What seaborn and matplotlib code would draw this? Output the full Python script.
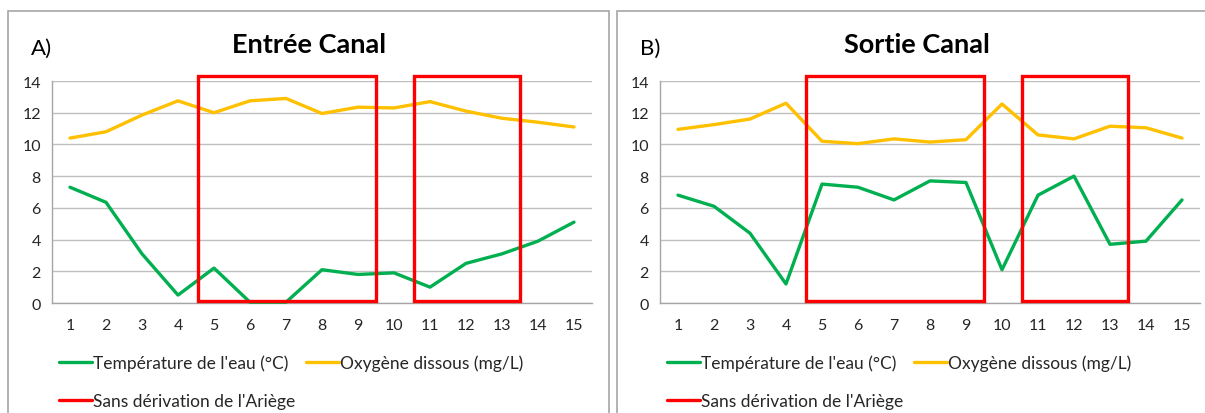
import numpy as np
import pandas as pd
import matplotlib
matplotlib.use("Agg")
import matplotlib.pyplot as plt
from matplotlib.patches import Rectangle
from matplotlib.lines import Line2D
import seaborn as sns

# ---- data ----
campaigns = list(range(1, 16))
temp_entree = [7.3, 6.35, 3.1, 0.5, 2.2, 0.05, 0.05, 2.1, 1.8, 1.9, 1.0, 2.5, 3.1, 3.9, 5.1]
oxy_entree = [10.4, 10.8, 11.85, 12.75, 12.0, 12.75, 12.9, 11.95, 12.35, 12.3, 12.7, 12.1, 11.65, 11.4, 11.1]
temp_sortie = [6.8, 6.1, 4.4, 1.2, 7.5, 7.3, 6.5, 7.7, 7.6, 2.1, 6.8, 8.0, 3.7, 3.9, 6.5]
oxy_sortie = [10.95, 11.25, 11.6, 12.6, 10.2, 10.05, 10.35, 10.15, 10.3, 12.55, 10.6, 10.35, 11.15, 11.05, 10.4]
periods_sans_derivation = [(5, 9), (11, 13)]
yticks = [0, 2, 4, 6, 8, 10, 12, 14]
label_temp = "Température de l'eau (°C)"
label_oxy = "Oxygène dissous (mg/L)"
label_red = "Sans dérivation de l'Ariège"

sns.set_theme(style="white")
plt.rcParams['font.family'] = ['Lato', 'DejaVu Sans']

GREEN = "#00b050"
ORANGE = "#ffc000"
RED = "#ff0000"
GRID = "#bfbfbf"
TXT = "#262626"

fig = plt.figure(figsize=(12.05, 4.14), dpi=100)

# panel borders
fig.patches.append(Rectangle((8 / 1205, -0.05), 601 / 1205, 1.05 - 12 / 414, transform=fig.transFigure,
                             fill=False, edgecolor="#a6a6a6", lw=1.2))
fig.patches.append(Rectangle((617 / 1205, -0.05), 0.5, 1.05 - 12 / 414, transform=fig.transFigure,
                             fill=False, edgecolor="#a6a6a6", lw=1.2))

panels = [
    ("A)", "Entrée Canal", temp_entree, oxy_entree, 52, 31, 309),
    ("B)", "Sortie Canal", temp_sortie, oxy_sortie, 660, 640, 917),
]

for letter, title, temp, oxy, left_px, letter_px, title_px in panels:
    ax = fig.add_axes([left_px / 1205, 1 - 304 / 414, 540 / 1205, 222 / 414])
    df = pd.DataFrame({
        "campagne": campaigns * 2,
        "valeur": temp + oxy,
        "serie": [label_temp] * len(campaigns) + [label_oxy] * len(campaigns),
    })
    sns.lineplot(data=df, x="campagne", y="valeur", hue="serie",
                 palette={label_temp: GREEN, label_oxy: ORANGE},
                 lw=2.4, ax=ax, legend=False, clip_on=False, zorder=3)
    ax.set_xlim(0.5, 15.5)
    ax.set_ylim(0, 14)
    ax.set_yticks(yticks)
    ax.set_yticklabels([str(v) for v in yticks], fontsize=11.5, color=TXT)
    ax.set_xticks(np.arange(0.5, 16, 1))
    ax.set_xticklabels([])
    ax.set_xticks(campaigns, minor=True)
    ax.set_xticklabels([str(c) for c in campaigns], minor=True, fontsize=11.5, color=TXT)
    ax.tick_params(axis="x", which="major", length=6, width=1, color="#a6a6a6", direction="out")
    ax.tick_params(axis="x", which="minor", length=0, pad=11)
    ax.tick_params(axis="y", length=5, width=1, color="#a6a6a6", direction="out", pad=3)
    ax.set_xlabel("")
    ax.set_ylabel("")
    ax.grid(axis="y", color=GRID, lw=1)
    ax.grid(axis="x", visible=False)
    for s in ["top", "right"]:
        ax.spines[s].set_visible(False)
    for s in ["left", "bottom"]:
        ax.spines[s].set_color("#a6a6a6")
        ax.spines[s].set_linewidth(1)
    ax.set_facecolor("none")

    for start, end in periods_sans_derivation:
        ax.add_patch(Rectangle((start - 0.45, 0.12), end - start + 0.95, 14.3 - 0.12,
                               fill=False, edgecolor=RED, lw=2.4, clip_on=False, zorder=4))

    fig.text(letter_px / 1205, 1 - 49 / 414, letter, fontsize=16, color="black", ha="left", va="center")
    fig.text(title_px / 1205, 1 - 45 / 414, title, fontsize=19.5, fontweight="bold", color="black",
             ha="center", va="center")

    handles = [Line2D([], [], color=GREEN, lw=2.4), Line2D([], [], color=RED, lw=2.4),
               Line2D([], [], color=ORANGE, lw=2.4)]
    labels = [label_temp, label_red, label_oxy]
    ax.legend(handles, labels, ncol=2, loc="upper left", bbox_to_anchor=(0.0, -0.2),
              frameon=False, fontsize=12.5, handlelength=1.9, handletextpad=0.05,
              columnspacing=0.63, labelspacing=1.3, borderaxespad=0, labelcolor=TXT)

fig.savefig("out.png", dpi=100)
